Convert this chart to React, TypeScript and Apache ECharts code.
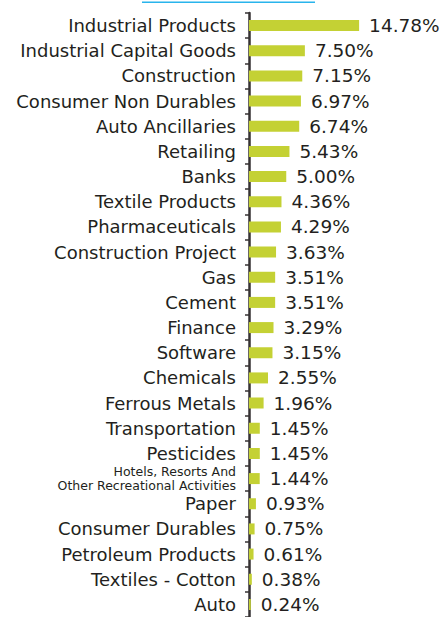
import React, { useEffect, useRef } from "react";
import * as echarts from "echarts";

const categories = [
  "Industrial Products",
  "Industrial Capital Goods",
  "Construction",
  "Consumer Non Durables",
  "Auto Ancillaries",
  "Retailing",
  "Banks",
  "Textile Products",
  "Pharmaceuticals",
  "Construction Project",
  "Gas",
  "Cement",
  "Finance",
  "Software",
  "Chemicals",
  "Ferrous Metals",
  "Transportation",
  "Pesticides",
  "Hotels, Resorts And\nOther Recreational Activities",
  "Paper",
  "Consumer Durables",
  "Petroleum Products",
  "Textiles - Cotton",
  "Auto",
];

const values = [
  14.78, 7.5, 7.15, 6.97, 6.74, 5.43, 5.0, 4.36, 4.29, 3.63, 3.51, 3.51, 3.29,
  3.15, 2.55, 1.96, 1.45, 1.45, 1.44, 0.93, 0.75, 0.61, 0.38, 0.24,
];

const title = "% Sector Allocation";

export default function App() {
  const ref = useRef<HTMLDivElement>(null);
  useEffect(() => {
    if (!ref.current) return;
    const chart = echarts.init(ref.current, undefined, { renderer: "svg" });
    const font = "'DejaVu Sans', 'Open Sans', sans-serif";
    chart.setOption({
      animation: false,
      grid: { left: 249, top: 13, width: 149, height: 610 },
      xAxis: {
        type: "value",
        min: 0,
        max: 20,
        show: false,
      },
      yAxis: {
        type: "category",
        data: categories,
        inverse: true,
        axisLine: { show: true, lineStyle: { color: "#363233", width: 2.5 } },
        axisTick: {
          show: true,
          length: 4,
          lineStyle: { color: "#363233", width: 1.5 },
        },
        axisLabel: {
          margin: 13,
          color: "#231f20",
          fontFamily: font,
          fontSize: 18,
          formatter: (v: string) =>
            v.indexOf("\n") >= 0 ? `{s|${v}}` : v,
          rich: {
            s: { fontSize: 12.5, lineHeight: 14.5, fontFamily: font, color: "#231f20", align: "right" },
          },
        },
      },
      series: [
        {
          type: "bar",
          data: values,
          barWidth: 11,
          itemStyle: { color: "#c4d134" },
          label: {
            show: true,
            position: "right",
            distance: 10,
            color: "#231f20",
            fontFamily: font,
            fontSize: 18.5,
            formatter: (p: any) => `${Number(p.value).toFixed(2)}%`,
          },
        },
      ],
      graphic: [
        {
          type: "text",
          x: 228,
          y: 2,
          style: {
            text: title,
            fontFamily: font,
            fontSize: 15,
            fontWeight: "bold",
            fill: "#29b4ec",
            align: "center",
            verticalAlign: "bottom",
          },
        },
        {
          type: "rect",
          shape: { x: 142, y: 1.5, width: 173, height: 1.5 },
          style: { fill: "#29b4ec" },
        },
      ],
    });
    return () => chart.dispose();
  }, []);
  return (
    <div
      ref={ref}
      style={{ position: "fixed", left: 0, top: 0, width: 446, height: 617, background: "#fff" }}
    />
  );
}
